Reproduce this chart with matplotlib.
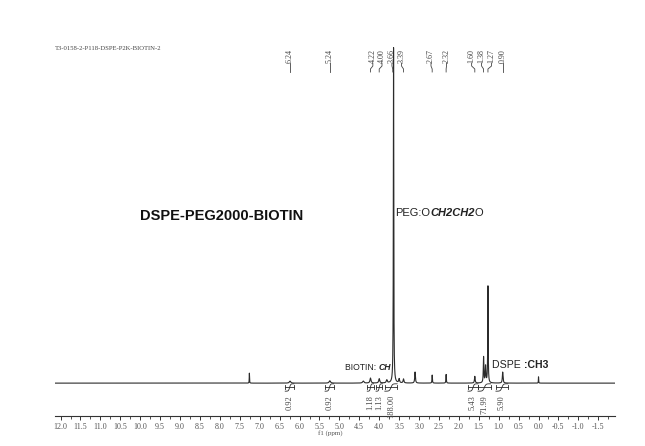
import numpy as np
import matplotlib
matplotlib.use("Agg")
import matplotlib.pyplot as plt
import matplotlib.transforms as mtrans
from matplotlib.ticker import MultipleLocator, FormatStrFormatter

# ---------------- data ----------------
peak_ppm    = [7.26, 6.24, 5.24, 4.40, 4.22, 4.00, 3.81, 3.64, 3.50, 3.39, 3.10, 2.67, 2.32, 1.60, 1.38, 1.33, 1.27, 0.90, 0.00]
peak_height = [3.0,  0.6,  0.7,  0.6,  1.5,  1.3,  0.9,  100., 1.2,  1.2,  3.3,  2.4,  2.6,  2.0,  7.7,  5.0,  29.0, 3.3,  1.9]
peak_width  = [0.004,0.02, 0.02, 0.02, 0.015,0.015,0.015,0.006,0.012,0.012,0.010,0.006,0.006,0.010,0.008,0.010,0.006,0.010,0.004]

label_values = ["6.24", "5.24", "4.22", "4.00", "3.66", "3.39", "2.67", "2.32", "1.60", "1.38", "1.27", "0.90"]
label_peaks  = [6.24, 5.24, 4.22, 4.00, 3.66, 3.39, 2.67, 2.32, 1.60, 1.38, 1.27, 0.90]

integral_values = ["0.92", "0.92", "1.18", "1.13", "188.00", "5.43", "71.99", "5.90"]
integral_start  = [6.36, 5.36, 4.30, 4.08, 3.86, 1.77, 1.52, 1.07]
integral_end    = [6.14, 5.14, 4.14, 3.92, 3.55, 1.52, 1.20, 0.77]

x_ticks = np.arange(12.0, -1.51, -0.5)

title_id = "T3-0158-2-P118-DSPE-P2K-BIOTIN-2"
compound = "DSPE-PEG2000-BIOTIN"

# ---------------- figure ----------------
W, H = 645, 446
fig = plt.figure(figsize=(W / 100, H / 100), dpi=100)
ax = fig.add_axes([55 / W, 30 / H, 560 / W, 370 / H])

ppm = np.linspace(12.14, -1.92, 12000)
spec = np.zeros_like(ppm)
for c, h, w in zip(peak_ppm, peak_height, peak_width):
    spec += h * w**2 / ((ppm - c) ** 2 + w**2)

line_col = "#2b2b2b"
ax.plot(ppm, spec, color=line_col, lw=0.8)
ax.set_xlim(12.14, -1.92)
ax.set_ylim(-9.8, 100.5)

for s in ["top", "left", "right"]:
    ax.spines[s].set_visible(False)
ax.spines["bottom"].set_color("#333333")
ax.spines["bottom"].set_linewidth(0.8)
ax.set_yticks([])
ax.set_xticks(x_ticks)
ax.xaxis.set_major_formatter(FormatStrFormatter("%.1f"))
ax.xaxis.set_minor_locator(MultipleLocator(0.25))
ax.tick_params(axis="x", which="major", length=3, width=0.7, color="#333333",
               labelsize=5.8, labelcolor="#555555", pad=2)
ax.tick_params(axis="x", which="minor", length=1.8, width=0.6, color="#333333")
for t in ax.get_xticklabels():
    t.set_family("Liberation Serif")

def fy(px):
    return 1 - px / H

fig.text(330 / W, fy(433), "f1 (ppm)", ha="center", va="center",
         fontsize=5, family="Liberation Serif", color="#555555")

fig.text(55 / W, fy(49), title_id, ha="left", va="center",
         fontsize=4.8, family="Liberation Serif", color="#444444")

# peak labels at the top
bt = mtrans.blended_transform_factory(ax.transData, fig.transFigure)
label_pos = [6.24, 5.24, 4.16, 3.93, 3.68, 3.44, 2.70, 2.31, 1.68, 1.43, 1.18, 0.90]
for lab, pk, lp in zip(label_values, label_peaks, label_pos):
    ax.text(lp, fy(63), lab, transform=bt, rotation=90, ha="center", va="bottom",
            fontsize=5.8, family="Liberation Serif", color="#444444")
    ax.plot([lp, lp, pk, pk], [fy(63), fy(66), fy(69), fy(72)], transform=bt,
            color="#444444", lw=0.6, clip_on=False)

# integrals
for val, a, b in zip(integral_values, integral_start, integral_end):
    ax.plot([a, b], [-1.3, -1.3], color=line_col, lw=0.6)
    ax.plot([a, a], [-0.7, -1.9], color=line_col, lw=0.6)
    ax.plot([b, b], [-0.7, -1.9], color=line_col, lw=0.6)
    xs = np.linspace(a, b, 40)
    mid = (a + b) / 2
    ys = -2.4 + 2.2 * (0.5 + 0.5 * np.tanh((xs - mid) / (abs(a - b) / 8) * -1))
    ax.plot(xs, ys, color=line_col, lw=0.6)
    ax.text(mid, fy(395), val, transform=bt, rotation=90, ha="center", va="top",
            fontsize=6, family="Liberation Serif", color="#444444")

# annotation texts
fig.text(140 / W, fy(216), compound, ha="left", va="center", fontsize=10.5,
         family="Liberation Sans", weight="bold", color="#111111")

def rich(x_px, y_px, parts, size):
    prev = None
    for txt, wt, st in parts:
        if prev is None:
            prev = fig.text(x_px / W, fy(y_px), txt, ha="left", va="center",
                            fontsize=size, family="Liberation Sans", weight=wt,
                            style=st, color="#222222")
        else:
            prev = ax.annotate(txt, xy=(1, 0.5), xycoords=prev, ha="left", va="center",
                               fontsize=size, family="Liberation Sans", weight=wt,
                               style=st, color="#222222")

rich(395, 213, [("PEG:O", "normal", "normal"), ("CH2CH2", "bold", "italic"), ("O", "normal", "normal")], 8.0)
rich(345, 367, [("BIOTIN: ", "normal", "normal"), ("CH", "bold", "italic")], 6.2)
rich(492, 365, [("DSPE ", "normal", "normal"), (":CH3", "bold", "normal")], 7.6)

fig.savefig("out.png", dpi=100)
